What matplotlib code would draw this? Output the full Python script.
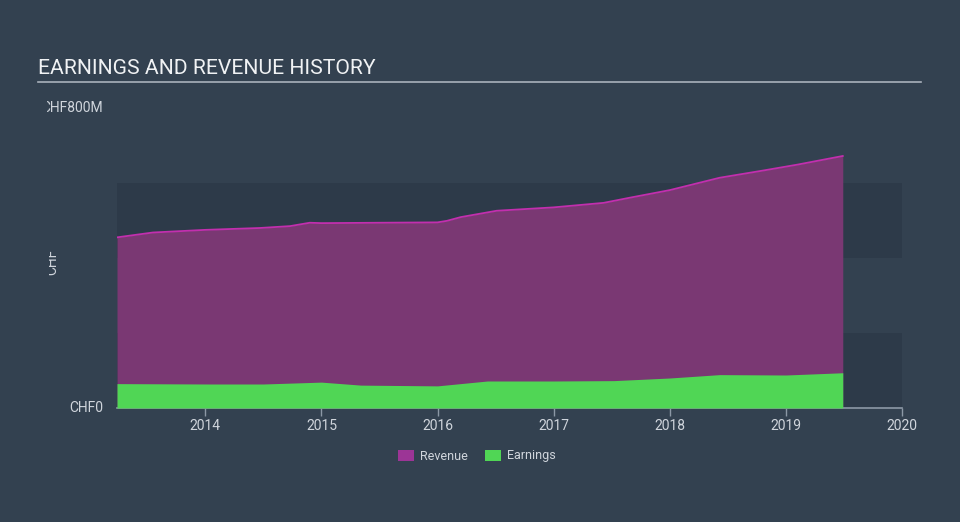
import numpy as np
import matplotlib.pyplot as plt
from matplotlib.patches import Patch
from matplotlib.transforms import Bbox

plt.rcParams['font.family'] = ['Roboto', 'DejaVu Sans']

# data (decimal years, CHF millions)
rev_years = [2013.24, 2013.55, 2014.0, 2014.47, 2014.73, 2014.9, 2015.0, 2016.0, 2016.08,
             2016.2, 2016.51, 2017.0, 2017.43, 2017.66, 2018.0, 2018.43, 2018.8, 2019.1, 2019.49]
revenue = [455, 468, 475, 480, 485, 494, 493, 495, 499,
           509, 526, 535, 547, 561, 581, 614, 633, 649, 672]

earn_years = [2013.24, 2014.04, 2014.5, 2015.0, 2015.34, 2016.0, 2016.43, 2017.0, 2017.52,
              2018.0, 2018.43, 2019.0, 2019.49]
earnings = [65, 64, 64, 69, 61, 59, 72, 72, 73, 80, 89, 88, 94]

year_ticks = [2014, 2015, 2016, 2017, 2018, 2019, 2020]

BG = '#334150'
BAND = '#2d3a49'
TXT = '#d0d5dc'
REV_FILL = '#7a3873'
REV_LINE = '#c22fae'
EARN = '#50d655'

fig = plt.figure(figsize=(9.6, 5.22), dpi=100, facecolor=BG)
ax = fig.add_axes([117/960, 114/522, 785/960, 300/522])
ax.set_facecolor(BG)

# background bands
ax.axhspan(0, 200, color=BAND, zorder=0, lw=0)
ax.axhspan(400, 600, color=BAND, zorder=0, lw=0)

ax.fill_between(rev_years, revenue, color=REV_FILL, lw=0, zorder=2)
ax.plot(rev_years, revenue, color=REV_LINE, lw=1.3, zorder=3)
ax.fill_between(earn_years, earnings, color=EARN, lw=0, zorder=4)

ax.set_xlim(2013.24, 2020.0)
ax.set_ylim(0, 800)

for s in ['top', 'right', 'left']:
    ax.spines[s].set_visible(False)
ax.spines['bottom'].set_color('#8c98a6')
ax.spines['bottom'].set_linewidth(1.2)

ax.set_xticks(year_ticks)
ax.set_xticklabels([str(y) for y in year_ticks], color=TXT, fontsize=10)
ax.tick_params(axis='x', colors='#8c98a6', length=6, width=1, labelcolor=TXT, pad=2)
ax.set_yticks([])

# y labels
fig.text(103/960, 1 - 408/522, 'CHF0', color=TXT, fontsize=10, ha='right', va='center')
t800 = fig.text(103/960, 1 - 108/522, 'CHF800M', color=TXT, fontsize=10, ha='right', va='center')
t800.set_clip_box(Bbox([[47, 0], [960, 522]]))
t800.set_clip_on(True)
tchf = fig.text(52/960, 1 - 262/522, 'CHF', color=TXT, fontsize=10, ha='center', va='center', rotation=90)
tchf.set_clip_box(Bbox([[49, 0], [960, 522]]))
tchf.set_clip_on(True)

# title and underline
fig.text(38/960, 1 - 69/522, 'EARNINGS AND REVENUE HISTORY', color='#f0f2f4', fontsize=15.2,
         ha='left', va='center')
fig.add_artist(plt.Line2D([38/960, 921/960], [1 - 82/522, 1 - 82/522], color='#a9b1bb', lw=1.2))

# legend
handles = [Patch(facecolor='#9c3596', label='Revenue'), Patch(facecolor=EARN, label='Earnings')]
leg = fig.legend(handles=handles, loc='center', bbox_to_anchor=(477/960, 1 - 456/522), ncol=2,
                 frameon=False, fontsize=9, handlelength=1.25, handleheight=1.0, columnspacing=1.35,
                 handletextpad=0.5)
for t in leg.get_texts():
    t.set_color(TXT)

fig.savefig('out.png', dpi=100, facecolor=BG)
